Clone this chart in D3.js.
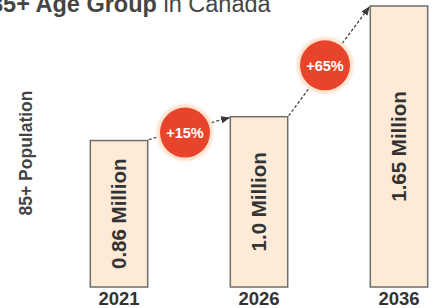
<!DOCTYPE html>
<html>
<head>
<meta charset="utf-8">
<script src="https://cdn.jsdelivr.net/npm/d3@7"></script>
<style>
  html, body { margin: 0; padding: 0; background: #fff; }
  svg { display: block; font-family: "Liberation Sans", Arial, sans-serif; }
</style>
</head>
<body>
<div id="chart"></div>
<script>
const years = ['2021', '2026', '2036'];
const values = [0.86, 1.0, 1.65];
const valueLabels = ['0.86 Million', '1.0 Million', '1.65 Million'];
const growth = ['+15%', '+65%'];

const W = 436, H = 308;

const svg = d3.select('#chart')
  .append('svg')
  .attr('width', W)
  .attr('height', H);

const defs = svg.append('defs');
defs.append('marker')
  .attr('id', 'arrow')
  .attr('viewBox', '0 0 10 10')
  .attr('refX', 9)
  .attr('refY', 5)
  .attr('markerWidth', 7)
  .attr('markerHeight', 7)
  .attr('orient', 'auto')
  .append('path')
  .attr('d', 'M0,1 L10,5 L0,9 Z')
  .attr('fill', '#3a3a3a');

const glow = defs.append('filter').attr('id', 'soft').attr('x', '-30%').attr('y', '-30%').attr('width', '160%').attr('height', '160%');
glow.append('feGaussianBlur').attr('stdDeviation', 1.2);

const x = d3.scaleBand()
  .domain(years)
  .range([49, 469])
  .paddingInner(0.59)
  .paddingOuter(0.295);

const y = d3.scaleLinear()
  .domain([0, 1.65])
  .range([287, 6]);

// title (cut off at the top edge, like the source)
const title = svg.append('text')
  .attr('x', -10)
  .attr('y', 12)
  .attr('font-size', 23.5)
  .attr('fill', '#454545');
title.append('tspan').attr('font-weight', 'bold').text('85+ Age Group');
title.append('tspan').text(' in Canada');

// y axis title
svg.append('text')
  .attr('transform', 'translate(32,153) rotate(-90)')
  .attr('text-anchor', 'middle')
  .attr('font-size', 17.5)
  .attr('font-weight', 'bold')
  .attr('fill', '#444')
  .text('85+ Population');

const bars = years.map((yr, i) => ({ year: yr, value: values[i], label: valueLabels[i] }));

svg.append('g')
  .selectAll('rect')
  .data(bars)
  .join('rect')
  .attr('x', (d) => x(d.year))
  .attr('y', (d) => y(d.value))
  .attr('width', x.bandwidth())
  .attr('height', (d) => y(0) - y(d.value))
  .attr('fill', '#fdebd7')
  .attr('stroke', '#6e6e6e')
  .attr('stroke-width', 1.5);

svg.append('g')
  .selectAll('text')
  .data(bars)
  .join('text')
  .attr('transform', (d) => {
    const cx = x(d.year) + x.bandwidth() / 2;
    const cy = (y(d.value) + y(0)) / 2;
    return `translate(${cx + 7},${cy}) rotate(-90)`;
  })
  .attr('text-anchor', 'middle')
  .attr('font-size', 20.5)
  .attr('font-weight', 'bold')
  .attr('fill', '#333')
  .text((d) => d.label);

// x axis labels
const xAxis = d3.axisBottom(x).tickSize(0).tickPadding(0);
const xg = svg.append('g')
  .attr('transform', `translate(0,${y(0)})`)
  .call(xAxis);
xg.select('.domain').remove();
xg.selectAll('text')
  .attr('dy', null)
  .attr('y', 18)
  .attr('font-size', 18.5)
  .attr('font-weight', 'bold')
  .attr('font-family', '"Liberation Sans", Arial, sans-serif')
  .attr('fill', '#333');

// growth connectors
const links = growth.map((g, i) => ({
  label: g,
  x1: x(years[i]) + x.bandwidth() + 1,
  y1: y(values[i]) - 1,
  x2: x(years[i + 1]) - 1,
  y2: y(values[i + 1]) + 1
}));

svg.append('g')
  .selectAll('line')
  .data(links)
  .join('line')
  .attr('x1', (d) => d.x1)
  .attr('y1', (d) => d.y1)
  .attr('x2', (d) => d.x2)
  .attr('y2', (d) => d.y2)
  .attr('stroke', '#444')
  .attr('stroke-width', 1.3)
  .attr('stroke-dasharray', '3,2')
  .attr('marker-end', 'url(#arrow)');

const badge = svg.append('g')
  .selectAll('g')
  .data(links)
  .join('g')
  .attr('transform', (d) => `translate(${(d.x1 + d.x2) / 2 - 4},${(d.y1 + d.y2) / 2 + 4})`);

badge.append('circle')
  .attr('r', 28.5)
  .attr('fill', '#fde2cf')
  .attr('filter', 'url(#soft)');

badge.append('circle')
  .attr('r', 25)
  .attr('fill', '#e8442b');

badge.append('text')
  .attr('text-anchor', 'middle')
  .attr('dy', '0.36em')
  .attr('font-size', 14.5)
  .attr('font-weight', 'bold')
  .attr('fill', '#fff')
  .text((d) => d.label);
</script>
</body>
</html>
